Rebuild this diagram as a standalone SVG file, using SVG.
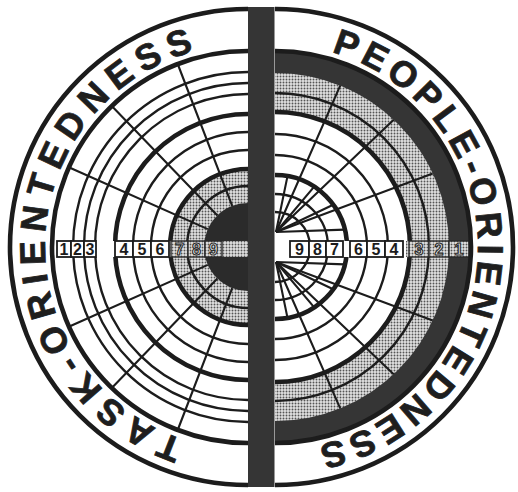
<svg xmlns="http://www.w3.org/2000/svg" width="518" height="492" viewBox="0 0 518 492">
<style>
.ln{fill:none;stroke:#1c1c1c;stroke-width:2.4}
.tk{fill:none;stroke:#1c1c1c;stroke-width:4.6}
.sp{fill:none;stroke:#1c1c1c;stroke-width:2.1}
.ring{font-family:"Liberation Sans",Arial,Helvetica,sans-serif;font-weight:bold;font-size:36px;fill:#1e1e1e;stroke:#1e1e1e;stroke-width:0.8;text-anchor:middle}
.num{font-family:"Liberation Sans",Arial,sans-serif;font-weight:bold;font-size:16px;fill:#1c1c1c;text-anchor:middle}
.numS{font-family:"Liberation Sans",Arial,sans-serif;font-weight:bold;font-size:16px;fill:#e6e6e6;stroke:#2a2a2a;stroke-width:1.1;text-anchor:middle}
.box{fill:#fff;stroke:#1c1c1c;stroke-width:1.8}
.sbox{fill:url(#dots);stroke:#2a2a2a;stroke-width:1.4}
.dark{fill:#353535}
.shade{fill:url(#dots)}
</style>
<defs>
<pattern id="dots" width="3" height="3" patternUnits="userSpaceOnUse">
<rect width="3" height="3" fill="#e2e2e2"/>
<circle cx="1.5" cy="1.5" r="0.95" fill="#555"/>
</pattern>
</defs>
<rect width="518" height="492" fill="#fff"/>

<g id="task-half">
<path class="shade" d="M248,169 A78,78 0 0 0 248,325 Z"/>
<path fill="#2b2b2b" d="M248,203 A44,44 0 0 0 248,291 Z"/>
<path class="ln" d="M248,72 A175,175 0 0 0 248,422"/>
<path class="ln" d="M248,83 A164,164 0 0 0 248,411"/>
<path class="ln" d="M248,94 A153,153 0 0 0 248,400"/>
<path class="ln" d="M248,132 A115,115 0 0 0 248,362"/>
<path class="ln" d="M248,150 A97,97 0 0 0 248,344"/>
<path class="ln" d="M248,186 A61,61 0 0 0 248,308"/>
<path class="tk" d="M248,114 A133,133 0 0 0 248,380"/>
<g class="sp">
<path d="M207.8,229.1 L69.9,167.7 M207.8,264.9 L69.9,326.3"/>
<path d="M217.4,215.4 L112.5,106.7 M217.4,278.6 L112.5,387.3"/>
<path d="M232.2,205.9 L178.1,65.0 M232.2,288.1 L178.1,429.0"/>
</g>
<path class="tk" d="M248,169 A78,78 0 0 0 248,325"/>
</g>

<g id="people-half">
<path class="dark" d="M275,51 A196,196 0 0 1 275,443 Z"/>
<path class="shade" d="M275,73 A174,174 0 0 1 275,421 Z"/>
<path fill="#fff" d="M275,112 A135,135 0 0 1 275,382 Z"/>
<path class="ln" d="M275,93 A154,154 0 0 1 275,401"/>
<path class="ln" d="M275,134 A113,113 0 0 1 275,360"/>
<path class="ln" d="M275,155 A92,92 0 0 1 275,339"/>
<path class="ln" d="M275,194 A53,53 0 0 1 275,300"/>
<path class="ln" d="M275,212 A35,35 0 0 1 275,282"/>
<g class="sp">
<path d="M276,232 L432.7,173.5 M276,262 L432.7,320.5"/>
<path d="M276,232 L393.7,119.7 M276,262 L393.7,374.3"/>
<path d="M276,232 L340.2,85.7 M276,262 L340.2,408.3"/>
<path d="M276,232 L344.9,229.6 M276,262 L344.9,264.4"/>
<path d="M276,232 L333.2,204.7 M276,262 L333.2,289.3"/>
<path d="M276,232 L314.2,186.6 M276,262 L314.2,307.4"/>
<path d="M276,232 L287.5,176.1 M276,262 L287.5,317.9"/>
</g>
<path class="tk" d="M275,112 A135,135 0 0 1 275,382"/>
<path class="tk" d="M275,175 A72,72 0 0 1 275,319"/>
</g>

<g id="scale-task">
<rect x="54" y="241" width="116" height="16" fill="#fff"/>
<rect x="170" y="241" width="78" height="16" class="shade"/>
<rect class="box" x="57" y="241" width="14" height="16"/>
<rect class="box" x="71" y="241" width="13" height="16"/>
<rect class="box" x="84" y="241" width="12" height="16"/>
<rect class="box" x="115" y="241" width="18" height="16"/>
<rect class="box" x="133" y="241" width="18" height="16"/>
<rect class="box" x="151" y="241" width="18" height="16"/>
<rect class="sbox" x="171" y="241" width="17" height="16"/>
<rect class="sbox" x="188" y="241" width="17" height="16"/>
<rect class="sbox" x="205" y="241" width="17" height="16"/>
<text class="num" x="64" y="255">1</text>
<text class="num" x="77.5" y="255">2</text>
<text class="num" x="90" y="255">3</text>
<text class="num" x="124" y="255">4</text>
<text class="num" x="142" y="255">5</text>
<text class="num" x="160" y="255">6</text>
<text class="numS" x="179.5" y="255">7</text>
<text class="numS" x="196.5" y="255">8</text>
<text class="numS" x="213.5" y="255">9</text>
</g>

<g id="scale-people">
<rect x="274" y="241" width="132" height="16" fill="#fff"/>
<rect x="406" y="241" width="64" height="16" class="shade"/>
<rect class="box" x="290" y="241" width="19" height="16"/>
<rect class="box" x="309" y="241" width="17" height="16"/>
<rect class="box" x="326" y="241" width="17" height="16"/>
<rect class="box" x="350" y="241" width="17" height="16"/>
<rect class="box" x="367" y="241" width="18" height="16"/>
<rect class="box" x="385" y="241" width="18" height="16"/>
<rect class="sbox" x="409" y="241" width="20" height="16"/>
<rect class="sbox" x="429" y="241" width="20" height="16"/>
<rect class="sbox" x="449" y="241" width="20" height="16"/>
<text class="num" x="299.5" y="255">9</text>
<text class="num" x="317.5" y="255">8</text>
<text class="num" x="334.5" y="255">7</text>
<text class="num" x="358.5" y="255">6</text>
<text class="num" x="376" y="255">5</text>
<text class="num" x="394" y="255">4</text>
<text class="numS" x="419" y="255">3</text>
<text class="numS" x="439" y="255">2</text>
<text class="numS" x="459" y="255">1</text>
</g>

<g id="outer-ring">
<path class="tk" d="M248,9 A238,238 0 0 0 248,485"/>
<path class="tk" d="M275,9 A238,238 0 0 1 275,485"/>
<path class="tk" d="M248,51 A196,196 0 0 0 248,443"/>
<path class="tk" d="M275,51 A196,196 0 0 1 275,443"/>
</g>

<g id="label-task">
<text class="ring" transform="translate(173.6,435.9) rotate(-158.5)">T</text>
<text class="ring" transform="translate(145.1,422.0) rotate(-149.54)">A</text>
<text class="ring" transform="translate(118.3,403.2) rotate(-140.29)">S</text>
<text class="ring" transform="translate(94.9,380.3) rotate(-131.05)">K</text>
<text class="ring" transform="translate(78.7,359.0) rotate(-123.5)">-</text>
<text class="ring" transform="translate(65.0,334.9) rotate(-115.67)">O</text>
<text class="ring" transform="translate(52.7,302.5) rotate(-105.86)">R</text>
<text class="ring" transform="translate(47.3,277.3) rotate(-98.59)">I</text>
<text class="ring" transform="translate(45.1,252.7) rotate(-91.61)">E</text>
<text class="ring" transform="translate(46.8,220.0) rotate(-82.36)">N</text>
<text class="ring" transform="translate(53.5,189.0) rotate(-73.40)">T</text>
<text class="ring" transform="translate(64.4,160.3) rotate(-64.72)">E</text>
<text class="ring" transform="translate(80.7,132.0) rotate(-55.48)">D</text>
<text class="ring" transform="translate(102.1,105.9) rotate(-45.95)">N</text>
<text class="ring" transform="translate(126.7,84.3) rotate(-36.71)">E</text>
<text class="ring" transform="translate(153.5,67.3) rotate(-27.75)">S</text>
<text class="ring" transform="translate(182.6,54.8) rotate(-18.79)">S</text>
</g>

<g id="label-people">
<text class="ring" transform="translate(342.8,55.7) rotate(19.5)">P</text>
<text class="ring" transform="translate(369.6,67.4) rotate(27.76)">E</text>
<text class="ring" transform="translate(396.0,84.0) rotate(36.58)">O</text>
<text class="ring" transform="translate(419.5,104.5) rotate(45.4)">P</text>
<text class="ring" transform="translate(437.9,125.9) rotate(53.38)">L</text>
<text class="ring" transform="translate(453.2,149.7) rotate(61.36)">E</text>
<text class="ring" transform="translate(463.1,170.7) rotate(67.92)">-</text>
<text class="ring" transform="translate(471.1,194.6) rotate(75.05)">O</text>
<text class="ring" transform="translate(476.9,226.4) rotate(84.16)">R</text>
<text class="ring" transform="translate(478.0,249.6) rotate(90.72)">I</text>
<text class="ring" transform="translate(476.5,271.8) rotate(97.01)">E</text>
<text class="ring" transform="translate(470.6,301.4) rotate(105.55)">N</text>
<text class="ring" transform="translate(460.7,329.0) rotate(113.81)">T</text>
<text class="ring" transform="translate(447.6,353.9) rotate(121.78)">E</text>
<text class="ring" transform="translate(429.7,378.4) rotate(130.32)">D</text>
<text class="ring" transform="translate(407.7,400.6) rotate(139.15)">N</text>
<text class="ring" transform="translate(383.5,418.6) rotate(147.69)">E</text>
<text class="ring" transform="translate(357.7,432.4) rotate(155.95)">S</text>
<text class="ring" transform="translate(330.2,442.3) rotate(164.21)">S</text>
</g>

<g id="divider">
<rect x="248" y="7" width="26.5" height="480" class="dark"/>
</g>
</svg>
